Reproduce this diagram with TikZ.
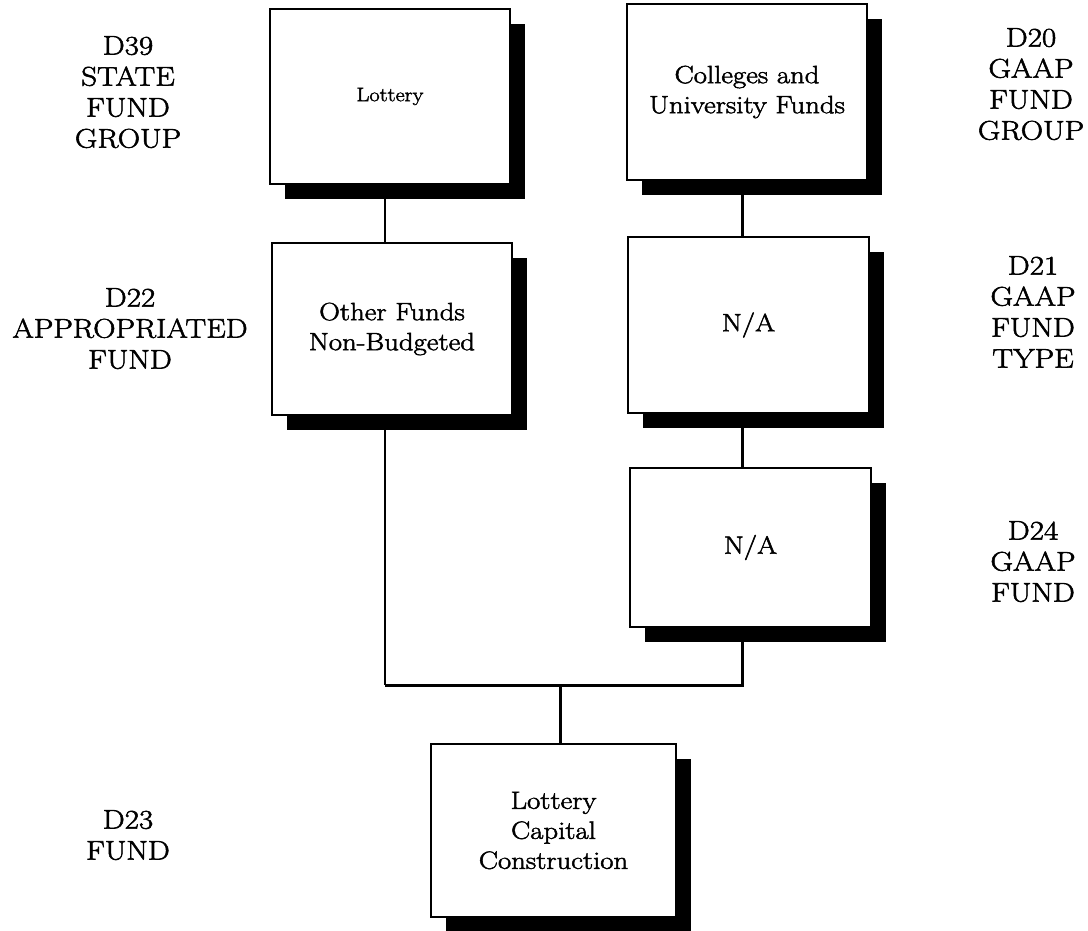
\documentclass[tikz,border=0pt]{standalone}
\usepackage{fontspec}
\setmainfont{Latin Modern Roman}[FakeStretch=1.15, FakeBold=2]
\usetikzlibrary{shadows,backgrounds}
\tikzset{
  fundbox/.style={draw, line width=2pt, fill=white, rectangle, inner sep=0pt,
    align=center, font=\fontsize{25}{30}\selectfont,
    drop shadow={shadow xshift=15pt, shadow yshift=-15pt, fill=black, opacity=1}},
  levellabel/.style={align=center, inner sep=0pt, anchor=north,
    font=\fontsize{27}{31}\selectfont},
  thinlink/.style={line width=1.2pt},
  midlink/.style={line width=2pt},
  thicklink/.style={line width=3pt}
}
\begin{document}
\begin{tikzpicture}[x=1pt, y=-1pt]
\useasboundingbox (0,0) rectangle (1088,931);
% boxes
\node[fundbox, minimum width=240pt, minimum height=175pt, font=\fontsize{19.5}{22}\selectfont] (lottery) at (390,96.5) {Lottery};
\node[fundbox, minimum width=240pt, minimum height=176pt] (colleges) at (747,92) {Colleges and\\University Funds};
\node[fundbox, minimum width=240pt, minimum height=172pt] (other) at (392,329) {Other Funds\\Non-Budgeted};
\node[fundbox, minimum width=241pt, minimum height=176pt] (na1) at (748.5,325) {N/A};
\node[fundbox, minimum width=241pt, minimum height=159pt] (na2) at (750.5,547.5) {N/A};
\node[fundbox, minimum width=245pt, minimum height=173pt] (lcc) at (553.5,830.5) {Lottery\\Capital\\Construction};
% labels
\node[levellabel] (l39) at (128,36) {D39\\STATE\\FUND\\GROUP};
\node[levellabel] (l22) at (130,288) {D22\\APPROPRIATED\\FUND};
\node[levellabel] (l23) at (128,810) {D23\\FUND};
\node[levellabel] (l20) at (1031,28) {D20\\GAAP\\FUND\\GROUP};
\node[levellabel] (l21) at (1033,256) {D21\\GAAP\\FUND\\TYPE};
\node[levellabel] (l24) at (1033,521) {D24\\GAAP\\FUND};
% connectors
\coordinate (cL) at (385,0);
\coordinate (cR) at (742,0);
\coordinate (join) at (560,685);
\begin{scope}[on background layer]
\draw[thinlink] (lottery.south -| cL) -- (other.north -| cL);
\draw[thicklink] (colleges.south -| cR) -- (na1.north -| cR);
\draw[thicklink] (na1.south -| cR) -- (na2.north -| cR);
\draw[midlink] (other.south -| cL) -- (cL |- join);
\draw[thicklink, line join=miter] (cL |- join) -- (cR |- join) -- (na2.south -| cR);
\draw[thicklink] (join) -- (lcc.north -| join);
\end{scope}
\end{tikzpicture}
\end{document}
